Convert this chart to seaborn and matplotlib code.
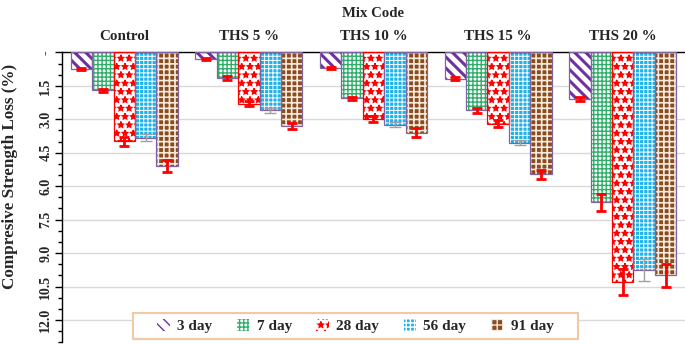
import numpy as np
import pandas as pd
import matplotlib
matplotlib.use("Agg")
import matplotlib.pyplot as plt
from matplotlib.patches import Rectangle
from matplotlib.ticker import MultipleLocator, FuncFormatter
import seaborn as sns

# data
mixes = ["Control", "THS 5 %", "THS 10 %", "THS 15 %", "THS 20 %"]
ages = ["3 day", "7 day", "28 day", "56 day", "91 day"]

loss_3d = [0.75, 0.30, 0.70, 1.18, 2.10]
loss_7d = [1.70, 1.15, 2.06, 2.60, 6.73]
loss_28d = [3.98, 2.30, 2.98, 3.19, 10.30]
loss_56d = [3.83, 2.60, 3.24, 4.05, 9.75]
loss_91d = [5.10, 3.30, 3.60, 5.47, 10.00]

err_3d = [0.05, 0.04, 0.05, 0.06, 0.08]
err_7d = [0.08, 0.08, 0.08, 0.12, 0.38]
err_28d = [0.20, 0.10, 0.12, 0.15, 0.60]
err_56d = [0.15, 0.10, 0.12, 0.12, 0.50]
err_91d = [0.27, 0.15, 0.20, 0.20, 0.50]

values = [loss_3d, loss_7d, loss_28d, loss_56d, loss_91d]
errors = [err_3d, err_7d, err_28d, err_56d, err_91d]

rows = []
for age, vals in zip(ages, values):
    for mix, v in zip(mixes, vals):
        rows.append({"Mix": mix, "Age": age, "Loss": v})
df = pd.DataFrame(rows)

# look of each series: face, hatch colour, hatch, hatch width, outline, error bar colour
faces = ["white", "white", "white", "#1CB2EA", "#8A4B1E"]
hatch_cols = ["#7030A0", "#2FAE6A", "#FF0000", "white", "#F5EBDD"]
hatches = ["\\\\\\", "++++", "**", "++++", "+++"]
hatch_lw = [2.2, 1.0, 1.0, 0.7, 1.2]
outlines = ["#8064A2", "#8064A2", "#FF0000", "#8064A2", "#8064A2"]
err_cols = ["#FF0000", "#FF0000", "#FF0000", "#A0A0A0", "#FF0000"]

sns.set_style("white")
plt.rcParams["font.family"] = ["Liberation Serif", "DejaVu Serif"]
plt.rcParams["hatch.linewidth"] = 1.0

fig = plt.figure(figsize=(6.85, 3.45), dpi=100)
ax = fig.add_axes([0.0905, 0.008, 0.9095, 0.84])

sns.barplot(data=df, x="Mix", y="Loss", hue="Age", order=mixes, hue_order=ages,
            errorbar=None, width=0.86, ax=ax, legend=False)

bar_sets = list(ax.containers)
for i, cont in enumerate(bar_sets):
    xs = []
    for p in cont.patches:
        p.set_facecolor(faces[i])
        p.set_edgecolor(hatch_cols[i])
        p.set_hatch(hatches[i])
        if hasattr(p, "set_hatch_linewidth"):
            p.set_hatch_linewidth(hatch_lw[i])
        p.set_linewidth(0)
        ax.add_patch(Rectangle(p.get_xy(), p.get_width(), p.get_height(),
                               fill=False, edgecolor=outlines[i], linewidth=0.9, zorder=3))
        xs.append(p.get_x() + p.get_width() / 2)
    thick = err_cols[i] != "#A0A0A0"
    ax.errorbar(xs, values[i], yerr=errors[i], fmt="none", ecolor=err_cols[i],
                elinewidth=2.0 if thick else 1.0, capsize=3.5 if thick else 4,
                capthick=2.0 if thick else 1.0, zorder=4)

ax.set_ylim(13, 0)
ax.set_xlim(-0.5, 4.5)
ax.yaxis.set_major_locator(MultipleLocator(1.5))
ax.yaxis.set_minor_locator(MultipleLocator(0.5))
ax.yaxis.set_major_formatter(FuncFormatter(lambda v, pos: "-" if abs(v) < 1e-9 else f"{v:.1f}"))
ax.grid(axis="y", color="#D9D9D9", linewidth=1.0)
ax.set_axisbelow(True)

ax.tick_params(axis="y", which="both", left=True, direction="out", color="black", width=1)
ax.tick_params(axis="y", which="major", length=5, labelsize=10, pad=2)
ax.tick_params(axis="y", which="minor", length=3)
for lab in ax.get_yticklabels():
    lab.set_rotation(90)
    lab.set_va("center")
    lab.set_fontweight("bold")

ax.xaxis.tick_top()
ax.xaxis.set_label_position("top")
ax.tick_params(axis="x", length=0, labelsize=10.8, pad=7)
for lab in ax.get_xticklabels():
    lab.set_fontweight("bold")
ax.set_xlabel("Mix Code", fontsize=10.6, fontweight="bold", labelpad=9)
ax.set_ylabel("Compresive Strength Loss (%)", fontsize=12.3, fontweight="bold")
ax.yaxis.set_label_coords(-0.071, 0.573)

for s in ["right", "bottom"]:
    ax.spines[s].set_visible(False)
for s in ["top", "left"]:
    ax.spines[s].set_color("black")
    ax.spines[s].set_linewidth(1.0)

# legend box drawn separately to get the wide side padding
ax.add_patch(Rectangle((0.114, 0.011), 0.714, 0.09, transform=ax.transAxes,
                       facecolor="white", edgecolor="#F2C9A6", linewidth=1.5, zorder=5))
leg = ax.legend(bar_sets, ages, loc="center", bbox_to_anchor=(0.471, 0.056),
                ncol=5, frameon=False, handlelength=0.8, handleheight=0.8,
                columnspacing=1.6, handletextpad=0.5, borderpad=0.2,
                prop={"weight": "bold", "size": 11})
leg.set_zorder(6)

fig.savefig("out.png", dpi=100)
